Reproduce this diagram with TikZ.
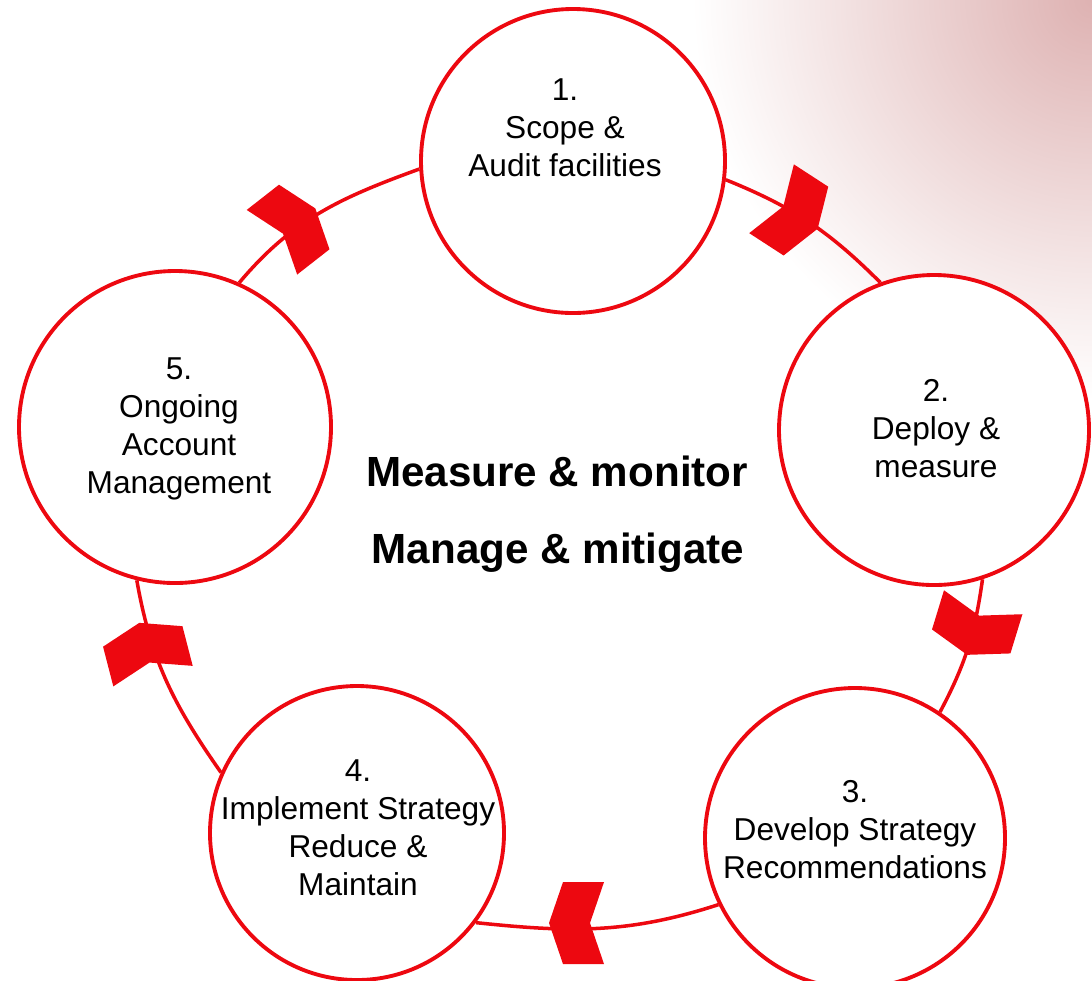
\documentclass[tikz,border=0pt]{standalone}
\usepackage{fontspec}
\setmainfont{Liberation Sans}
\definecolor{cyclered}{RGB}{237,8,16}
\definecolor{cornerpink}{RGB}{222,178,178}
\newcommand{\ringarrow}[2]{\fill[cyclered,shift={#1},rotate=#2] (0.27,0) -- (0.13,0.41) -- (-0.28,0.41) -- (-0.14,0) -- (-0.28,-0.41) -- (0.13,-0.41) -- cycle;}

\begin{document}
\begin{tikzpicture}

%
% Styles
%
\tikzstyle{stagecircle} = [circle,draw=cyclered,line width=1.1pt,fill=white,inner sep=0pt]
\tikzstyle{stagetext} = [align=center,font=\fontsize{9}{10.8}\selectfont]
\tikzstyle{bigtext} = [font=\fontsize{12}{14}\selectfont\bfseries,anchor=base]
\tikzstyle{ring} = [draw=cyclered,line width=1pt]

\useasboundingbox (0,0) rectangle (10.92,9.80);
\begin{scope}
\clip (0,0) rectangle (10.92,9.80);
\shade[inner color=cornerpink,outer color=white] (10.92,9.80) circle (4);
\end{scope}

\node[stagecircle,minimum size=3.04cm] (c1) at (5.73,8.19) {};
\node[stagecircle,minimum size=3.10cm] (c2) at (9.34,5.50) {};
\node[stagecircle,minimum size=3.00cm] (c3) at (8.55,1.42) {};
\node[stagecircle,minimum size=2.94cm] (c4) at (3.57,1.47) {};
\node[stagecircle,minimum size=3.12cm] (c5) at (1.75,5.53) {};

\node[stagetext] (t1) at (5.65,8.52) {1.\\Scope \&\\Audit facilities};
\node[stagetext] (t2) at (9.36,5.51) {2.\\Deploy \&\\measure};
\node[stagetext] (t3) at (8.55,1.50) {3.\\Develop Strategy\\Recommendations};
\node[stagetext] (t4) at (3.58,1.52) {4.\\Implement Strategy\\Reduce \&\\Maintain};
\node[stagetext] (t5) at (1.79,5.51) {5.\\Ongoing\\Account\\Management};

\node[bigtext] (m1) at (5.57,4.94) {Measure \& monitor};
\node[bigtext] (m2) at (5.58,4.17) {Manage \& mitigate};

% ring
\draw[ring] (c5.66) to[out=50,in=200] (c1.183);
\draw[ring] (c1.353) to[out=-22,in=135] (c2.110);
\draw[ring] (c2.288) to[out=-98,in=62] (c3.56);
\draw[ring] (c3.206) to[out=198,in=-6] (c4.323);
\draw[ring] (c4.156) to[out=125,in=280] (c5.256);

\ringarrow{(2.94,7.55)}{38}
\ringarrow{(7.95,7.66)}{-33}
\ringarrow{(9.75,3.51)}{-107}
\ringarrow{(5.76,0.57)}{180}
\ringarrow{(1.46,3.31)}{104.5}

\end{tikzpicture}
\end{document}
